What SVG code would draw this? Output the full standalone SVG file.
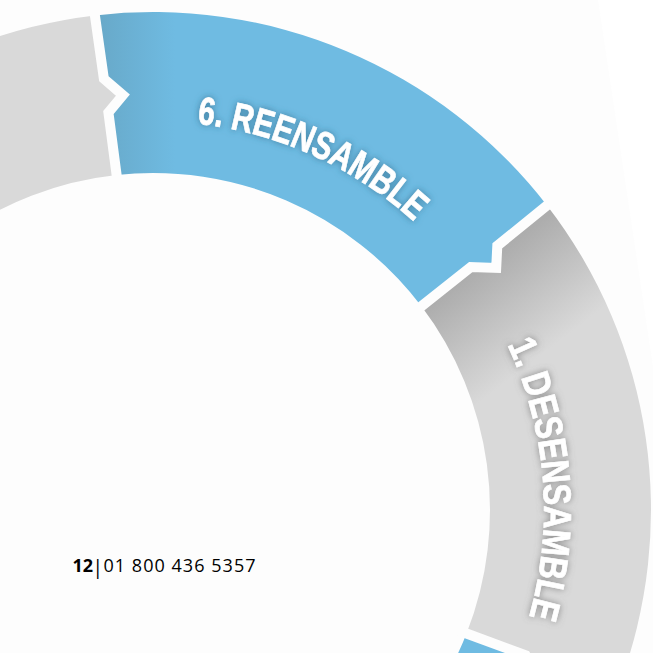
<svg xmlns="http://www.w3.org/2000/svg" width="653" height="653" viewBox="0 0 653 653">
  <style>
    .lbl { font-family: "Liberation Sans", Arial, sans-serif; font-weight: bold; font-size: 39px; fill: #ffffff; stroke: #ffffff; stroke-width: 0.7px; }
    .div { fill: none; stroke: #fdfdfd; stroke-width: 10; stroke-linejoin: miter; stroke-miterlimit: 10; }
    .foot { font-family: "Open Sans", "Noto Sans", sans-serif; font-size: 18px; fill: #000000; }
  </style>
  <defs>
    <linearGradient id="gBlue" gradientUnits="userSpaceOnUse" x1="100" y1="0" x2="175" y2="0">
      <stop offset="0" stop-color="#68a9c9"/>
      <stop offset="1" stop-color="#6fbbe2"/>
    </linearGradient>
    <linearGradient id="gGray" gradientUnits="userSpaceOnUse" x1="470" y1="275" x2="535" y2="360">
      <stop offset="0" stop-color="#adadad"/>
      <stop offset="1" stop-color="#d9d9d9"/>
    </linearGradient>
    <filter id="shBlue" x="-0.2" y="-0.3" width="1.4" height="1.6">
      <feGaussianBlur in="SourceAlpha" stdDeviation="3.5" result="b"/>
      <feFlood flood-color="#2d6a8a" flood-opacity="0.75"/>
      <feComposite in2="b" operator="in" result="s"/>
      <feMerge><feMergeNode in="s"/><feMergeNode in="SourceGraphic"/></feMerge>
    </filter>
    <filter id="shGray" x="-0.3" y="-0.2" width="1.6" height="1.4">
      <feGaussianBlur in="SourceAlpha" stdDeviation="3.5" result="b"/>
      <feFlood flood-color="#6a6a6a" flood-opacity="0.75"/>
      <feComposite in2="b" operator="in" result="s"/>
      <feMerge><feMergeNode in="s"/><feMergeNode in="SourceGraphic"/></feMerge>
    </filter>
    <path id="arcTop" d="M197.03,123.50 A389,389 0 0 1 450.99,259.96"/>
    <path id="arcRight" d="M507.36,344.76 A391,391 0 0 1 491.61,705.5"/>
  </defs>

  <rect x="0" y="0" width="653" height="653" fill="#fdfdfd"/>
  <polygon points="598,0 653,0 653,367" fill="#ffffff"/>

  <g id="seg-5">
    <path d="M-301.95,307.44 A498,498 0 0 1 94.90,15.40 L103.87,78.79 L122.89,95.09 L108.41,112.49 L116.60,174.97 A337,337 0 0 0 -154.87,372.93 Z" fill="#d9d9d9"/>
  </g>

  <g id="seg-6">
    <path d="M94.90,15.40 A498,498 0 0 1 547.03,205.46 L497.31,245.80 L496.20,267.90 L470.76,267.05 L421.43,306.26 A337,337 0 0 0 116.60,174.97 L108.41,112.49 L122.89,95.09 L103.87,78.79 Z" fill="url(#gBlue)"/>
    <text class="lbl" filter="url(#shBlue)"><textPath href="#arcTop" textLength="242" lengthAdjust="spacingAndGlyphs">6. REENSAMBLE</textPath></text>
  </g>

  <g id="seg-1">
    <path d="M547.03,205.46 A498,498 0 0 1 617.92,688.47 L557.63,666.94 L538.17,677.48 L525.68,655.30 L466.55,633.51 A337,337 0 0 0 421.43,306.26 L470.76,267.05 L496.20,267.90 L497.31,245.80 Z" fill="url(#gGray)"/>
    <text class="lbl" filter="url(#shGray)"><textPath href="#arcRight" textLength="279" lengthAdjust="spacingAndGlyphs">1. DESENSAMBLE</textPath></text>
  </g>

  <g id="seg-2">
    <path d="M617.92,688.47 A498,498 0 0 1 239.5,1000.4 L211.5,841.9 A337,337 0 0 0 466.55,633.51 L525.68,655.30 L538.17,677.48 L557.63,666.94 Z" fill="#6fbbe2"/>
  </g>

  <g id="dividers">
    <polyline class="div" points="93.50,3.48 94.90,15.40 103.87,78.79 122.89,95.09 108.41,112.49 116.60,174.97 117.90,186.90"/>
    <polyline class="div" points="556.52,198.12 547.03,205.46 497.31,245.80 496.20,267.90 470.76,267.05 421.43,306.26 411.87,313.52"/>
    <polyline class="div" points="617.92,688.47 557.63,666.94 538.17,677.48 525.68,655.30 466.55,633.51 455.39,629.11"/>
  </g>

  <g id="footer">
    <text class="foot"><tspan x="72.5" y="572" font-weight="bold">12</tspan><tspan x="97.7" y="574" text-anchor="middle" font-size="20px">|</tspan><tspan x="103.5" y="572" textLength="152" lengthAdjust="spacing">01 800 436 5357</tspan></text>
  </g>
</svg>
